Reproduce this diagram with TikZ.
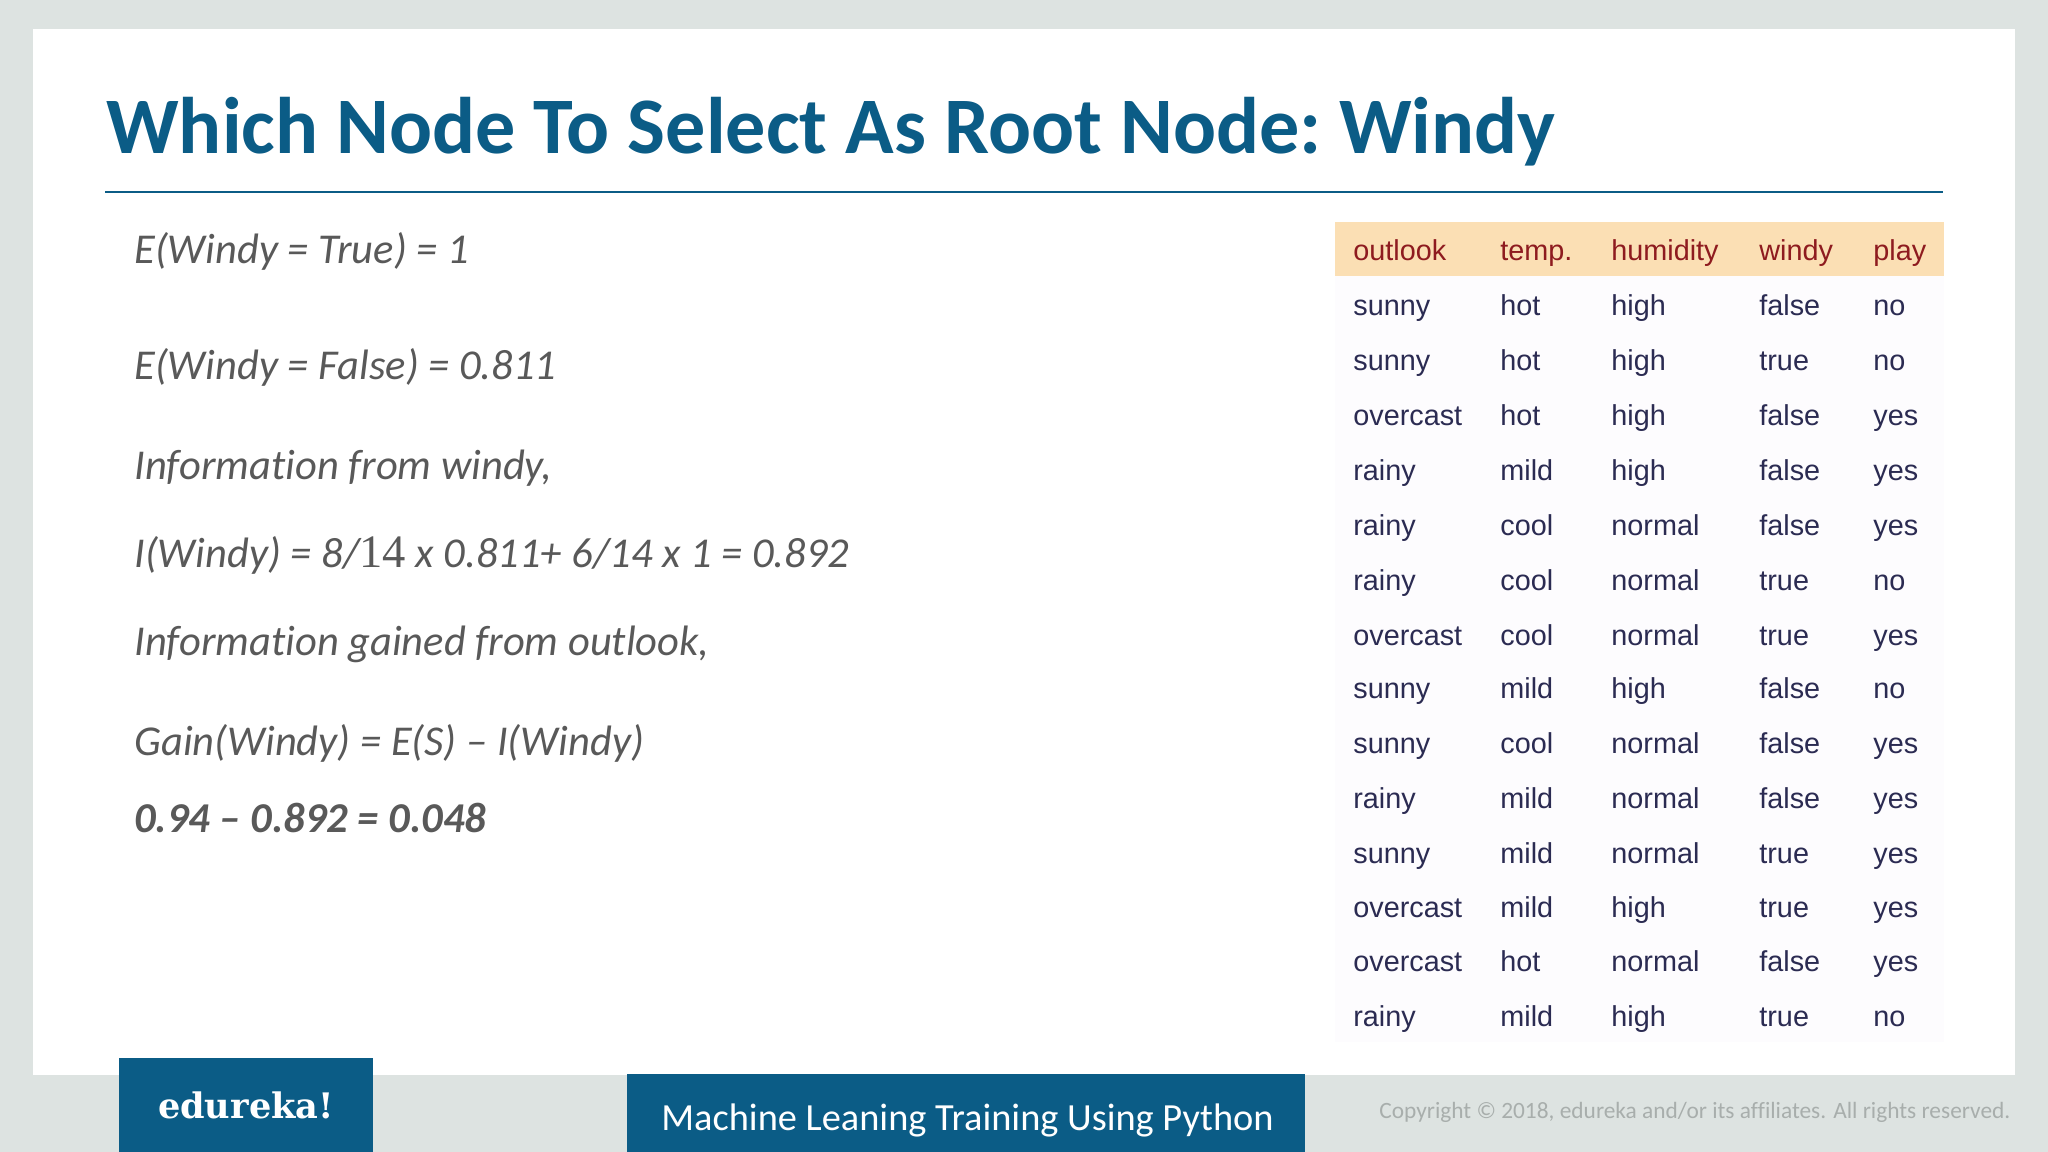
\documentclass[tikz,border=0pt]{standalone}
\usepackage{fontspec}
\setmainfont{Carlito}[Ligatures={TeX,NoCommon}]
\newfontfamily\tablefont{Liberation Sans}
\newfontfamily\logofont{DejaVu Serif}
\newfontfamily\numfont{Liberation Serif}
\definecolor{pagegrey}{HTML}{DDE3E1}
\definecolor{edublue}{HTML}{0B5C86}
\definecolor{bodygrey}{HTML}{595959}
\definecolor{headband}{HTML}{FBDFB4}
\definecolor{headred}{HTML}{8E1B1F}
\definecolor{cellnavy}{HTML}{2B2B52}
\definecolor{copygrey}{HTML}{A8AEAC}
\definecolor{tabletint}{HTML}{FDFCFE}
\tikzset{
	txt/.style={anchor=base west, inner sep=0pt},
	bodyline/.style={txt, text=bodygrey, font=\fontsize{24.2}{28}\selectfont\itshape},
	headcell/.style={txt, text=headred, font=\tablefont\fontsize{16.4}{20}\selectfont},
	cell/.style={txt, text=cellnavy, font=\tablefont\fontsize{16.4}{20}\selectfont}
}
\begin{document}
\begin{tikzpicture}[x=0.02cm, y=-0.02cm]
	\fill [pagegrey] (0,0) rectangle (2048,1152);
	\useasboundingbox (0,0) rectangle (2048,1152);
	\fill [white] (33,29) rectangle (2015,1075);
	% title
	\node [txt, text=edublue, font=\fontsize{45.63}{52}\selectfont\bfseries] (title) at (106,154) {Which Node To Select As Root Node:\kern-3.7pt{} Windy};
	\draw [edublue, line width=1pt] (105,192) -- (1943,192);
	% left column
	\node [bodyline] (etrue) at (134,263) {E(Windy = True) = 1};
	\node [bodyline] (efalse) at (134,379) {E(Windy = False) = 0.811};
	\node [bodyline] (info) at (134,479) {Information from windy,};
	\node [bodyline] (iwindy) at (134,567) {I(Windy) = 8/{\numfont\upshape\fontsize{26.5}{28}\selectfont 14} x 0.811+ 6/14 x 1 = 0.892};
	\node [bodyline] (gained) at (134,655) {Information gained from outlook,};
	\node [bodyline] (gain) at (134,755) {Gain(Windy) = E(S) -- I(Windy)};
	\node [bodyline, font=\fontsize{24.2}{28}\selectfont\itshape\bfseries] (result) at (134,832) {0.94 -- 0.892 = 0.048};
	% table
	\fill [tabletint] (1335,276) rectangle (1944,1042);
	\fill [headband] (1335,222) rectangle (1944,276);
	\foreach \x/\colname/\word in {1353/a/outlook, 1500/b/temp., 1611/c/humidity, 1759/d/windy, 1873/e/play}
		\node [headcell] (head\colname) at (\x,260) {\word};
	\foreach \y/\a/\b/\c/\d/\e [count=\r] in {
		315/sunny/hot/high/false/no,
		370/sunny/hot/high/true/no,
		425/overcast/hot/high/false/yes,
		480/rainy/mild/high/false/yes,
		535/rainy/cool/normal/false/yes,
		590/rainy/cool/normal/true/no,
		645/overcast/cool/normal/true/yes,
		698/sunny/mild/high/false/no,
		753/sunny/cool/normal/false/yes,
		808/rainy/mild/normal/false/yes,
		863/sunny/mild/normal/true/yes,
		917/overcast/mild/high/true/yes,
		971/overcast/hot/normal/false/yes,
		1026/rainy/mild/high/true/no} {
		\node [cell] (a\r) at (1353,\y) {\a};
		\node [cell] (b\r) at (1500,\y) {\b};
		\node [cell] (c\r) at (1611,\y) {\c};
		\node [cell] (d\r) at (1759,\y) {\d};
		\node [cell] (e\r) at (1873,\y) {\e};
	}
	% footer
	\fill [edublue] (119,1058) rectangle (373,1152);
	\fill [edublue] (627,1074) rectangle (1305,1152);
	\node [inner sep=0pt, text=white, font=\logofont\fontsize{20}{24}\selectfont\bfseries] (logo) at (246,1105) {edureka!};
	\node [txt, text=white, font=\fontsize{21.85}{26}\selectfont] (course) at (661,1130) {Machine Leaning Training Using Python};
	\node [txt, text=copygrey, font=\fontsize{13.3}{17}\selectfont] (copy) at (1379,1118) {Copyright © 2018, edureka and/or its affiliates. All rights reserved.};
\end{tikzpicture}
\end{document}
